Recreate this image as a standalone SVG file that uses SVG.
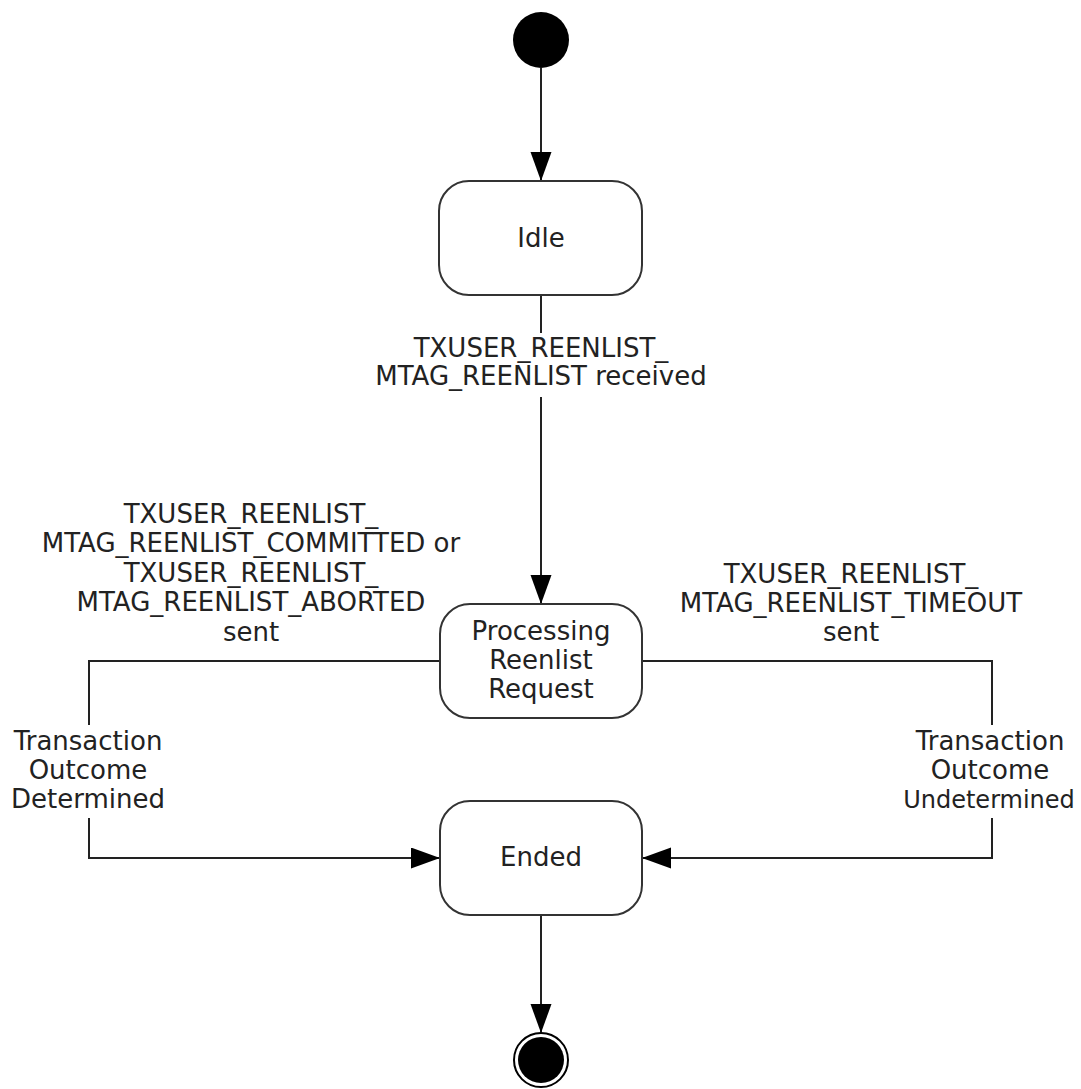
<svg xmlns="http://www.w3.org/2000/svg" width="1081" height="1089" viewBox="0 0 1081 1089">
<style>
.box{fill:#fff;stroke:#333;stroke-width:2}
.ln{fill:none;stroke:#222;stroke-width:2}
text{font-family:"DejaVu Sans",Verdana,sans-serif;font-size:26px;fill:#222;text-anchor:middle}
.sm{font-size:24px}
</style>
<defs>
<marker id="ah" markerUnits="userSpaceOnUse" markerWidth="30" markerHeight="22" refX="29" refY="10.5" orient="auto">
<path d="M0,0 L29,10.5 L0,21 Z" fill="#000"/>
</marker>
</defs>
<rect width="1081" height="1089" fill="#fff"/>
<g id="connectors">
<path class="ln" d="M541,68 V181" marker-end="url(#ah)"/>
<path class="ln" d="M541,295 V333 M541,397 V604" marker-end="url(#ah)"/>
<path class="ln" d="M440,661 H89 V725 M89,818 V858 H440" marker-end="url(#ah)"/>
<path class="ln" d="M642,661 H992 V725 M992,818 V858 H642" marker-end="url(#ah)"/>
<path class="ln" d="M541,915 V1033" marker-end="url(#ah)"/>
<g id="label-idle-proc">
<text x="541" y="357">TXUSER_REENLIST_</text>
<text x="541" y="385">MTAG_REENLIST received</text>
</g>
<g id="label-committed">
<text x="251" y="523">TXUSER_REENLIST_</text>
<text x="251" y="552">MTAG_REENLIST_COMMITTED or</text>
<text x="251" y="582">TXUSER_REENLIST_</text>
<text x="251" y="611">MTAG_REENLIST_ABORTED</text>
<text x="251" y="641">sent</text>
</g>
<g id="label-timeout">
<text x="851" y="583">TXUSER_REENLIST_</text>
<text x="851" y="612">MTAG_REENLIST_TIMEOUT</text>
<text x="851" y="641">sent</text>
</g>
<g id="label-determined">
<text x="88" y="750">Transaction</text>
<text x="88" y="779">Outcome</text>
<text x="88" y="808">Determined</text>
</g>
<g id="label-undetermined">
<text x="990" y="750">Transaction</text>
<text x="990" y="779">Outcome</text>
<text class="sm" x="989" y="808">Undetermined</text>
</g>
</g>
<g id="start">
<circle cx="541" cy="40" r="28" fill="#000"/>
</g>
<g id="idle">
<rect class="box" x="439" y="181" width="203" height="114" rx="30" ry="30"/>
<text x="541" y="247">Idle</text>
</g>
<g id="processing">
<rect class="box" x="440" y="604" width="202" height="114" rx="30" ry="30"/>
<text x="541" y="640">Processing</text>
<text x="541" y="669">Reenlist</text>
<text x="541" y="698">Request</text>
</g>
<g id="ended">
<rect class="box" x="440" y="801" width="202" height="114" rx="30" ry="30"/>
<text x="541" y="866">Ended</text>
</g>
<g id="final">
<circle cx="541" cy="1060" r="27" fill="#fff" stroke="#000" stroke-width="2"/>
<circle cx="541" cy="1060" r="23" fill="#000"/>
</g>
</svg>
